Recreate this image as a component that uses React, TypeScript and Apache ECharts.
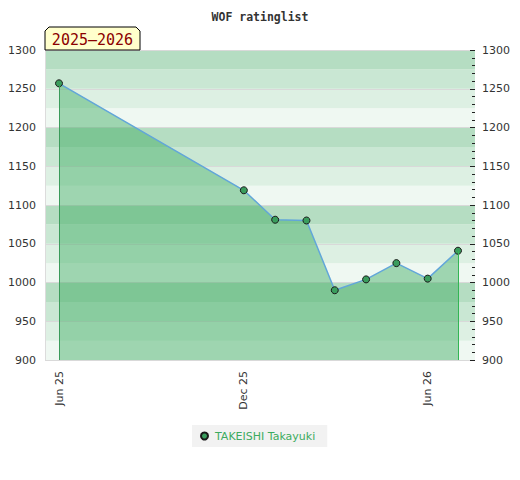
import React, { useEffect, useRef } from "react";
import * as echarts from "echarts";

const titleText = "WOF ratinglist";
const seasonLabel = "2025–2026";
const playerName = "TAKEISHI Takayuki";
const dates = ["2025-06-01", "2025-12-01", "2026-01-01", "2026-02-01", "2026-03-01", "2026-04-01", "2026-05-01", "2026-06-01", "2026-07-01"];
const ratings = [1257, 1119, 1081, 1080, 990, 1004, 1025, 1005, 1041];
const tickDates = ["2025-06-01", "2025-12-01", "2026-06-01"];
const tickLabels = ["Jun 25", "Dec 25", "Jun 26"];
const yMin = 900;
const yMax = 1300;

const DAY = 86400000;
const toMs = (s: string) => {
  const [y, m, d] = s.split("-").map(Number);
  return Date.UTC(y, m - 1, d);
};

export default function App() {
  const ref = useRef<HTMLDivElement>(null);
  useEffect(() => {
    document.body.style.margin = "0";
    if (!ref.current) return;
    const chart = echarts.init(ref.current, undefined, { renderer: "svg" });
    const xs = dates.map(toMs);
    const data = xs.map((x, i) => [x, ratings[i]]);
    const tickMs = tickDates.map(toMs);
    const xMin = xs[0] - 13.86 * DAY;
    const xMax = xs[xs.length - 1] + 16.83 * DAY;
    const axisFont = { fontFamily: "DejaVu Sans", fontSize: 11, color: "#333" };
    const plain = (v: number) => String(v);
    const option: any = {
      animation: false,
      title: {
        text: titleText,
        left: "center",
        top: 6,
        textStyle: { fontFamily: "DejaVu Sans Mono", fontWeight: "bold", fontSize: 11.5, color: "#333" },
      },
      grid: { left: 45, right: 45, top: 50, bottom: 120 },
      legend: {
        left: 192,
        top: 425,
        padding: [5, 12, 5, 8],
        backgroundColor: "#f2f2f2",
        itemWidth: 11,
        itemHeight: 7,
        icon: "circle",
        textStyle: { fontFamily: "DejaVu Sans", fontSize: 11, color: "#3dab60", lineHeight: 12 },
        data: [playerName],
      },
      xAxis: {
        type: "value",
        min: xMin,
        max: xMax,
        axisLine: { show: false },
        axisTick: { show: false },
        splitLine: { show: false },
        axisLabel: {
          ...axisFont,
          rotate: 90,
          margin: 11,
          customValues: tickMs,
          formatter: (v: number) => {
            const i = tickMs.indexOf(v);
            return i >= 0 ? tickLabels[i] : "";
          },
        },
      },
      yAxis: [
        {
          type: "value",
          min: yMin,
          max: yMax,
          interval: 25,
          position: "left",
          axisLine: { show: false },
          axisTick: { show: false },
          axisLabel: { show: false },
          splitLine: { show: false },
          splitArea: { show: true, areaStyle: { color: ["#eff8f2", "#ddf0e3", "#c9e7d3", "#b5ddc2"] } },
        },
        {
          type: "value",
          min: yMin,
          max: yMax,
          interval: 50,
          position: "left",
          z: 1,
          axisLine: { show: true, lineStyle: { color: "#dcdcdc" } },
          axisTick: { show: false },
          axisLabel: { ...axisFont, margin: 9, formatter: plain },
          splitLine: { show: true, lineStyle: { color: "#d9d9d9", width: 1 } },
        },
        {
          type: "value",
          min: yMin,
          max: yMax,
          interval: 50,
          position: "right",
          z: 1,
          axisLine: { show: false },
          axisTick: { show: true, inside: true, length: 5, lineStyle: { color: "#222" } },
          minorTick: { show: true, splitNumber: 5, length: 3, lineStyle: { color: "#222" } },
          axisLabel: { ...axisFont, margin: 7, formatter: plain },
          splitLine: { show: false },
        },
      ],
      graphic: [
        {
          type: "polygon",
          shape: { points: [[45, 50], [45, 31], [49, 27], [136, 27], [140, 31], [140, 50]] },
          style: { fill: "#ffffcc", stroke: "#000", lineWidth: 1 },
          z: 10,
        },
        {
          type: "text",
          x: 92.5,
          y: 39.5,
          style: {
            text: seasonLabel,
            fill: "#8b0000",
            font: "15px 'DejaVu Sans Mono'",
            textAlign: "center",
            textVerticalAlign: "middle",
          },
          z: 11,
        },
      ],
      series: [
        {
          name: playerName,
          type: "line",
          yAxisIndex: 1,
          data,
          symbol: "circle",
          symbolSize: 7,
          itemStyle: { color: "#3a9d5d", borderColor: "#1a1a1a", borderWidth: 1 },
          lineStyle: { color: "#62a6d9", width: 1.5 },
          areaStyle: { color: "rgba(60,170,95,0.45)", opacity: 1, origin: "start" },
          markLine: {
            silent: true,
            symbol: ["none", "none"],
            label: { show: false },
            data: [
              [
                { coord: [xs[0], yMin], lineStyle: { color: "#3a9b5a", width: 1, type: "solid" } },
                { coord: [xs[0], ratings[0]] },
              ],
              [
                { coord: [xs[xs.length - 1], yMin], lineStyle: { color: "#33b554", width: 1, type: "solid" } },
                { coord: [xs[xs.length - 1], ratings[ratings.length - 1]] },
              ],
            ],
          },
        },
      ],
    };
    chart.setOption(option);
    return () => chart.dispose();
  }, []);
  return <div ref={ref} style={{ width: 520, height: 480 }} />;
}
